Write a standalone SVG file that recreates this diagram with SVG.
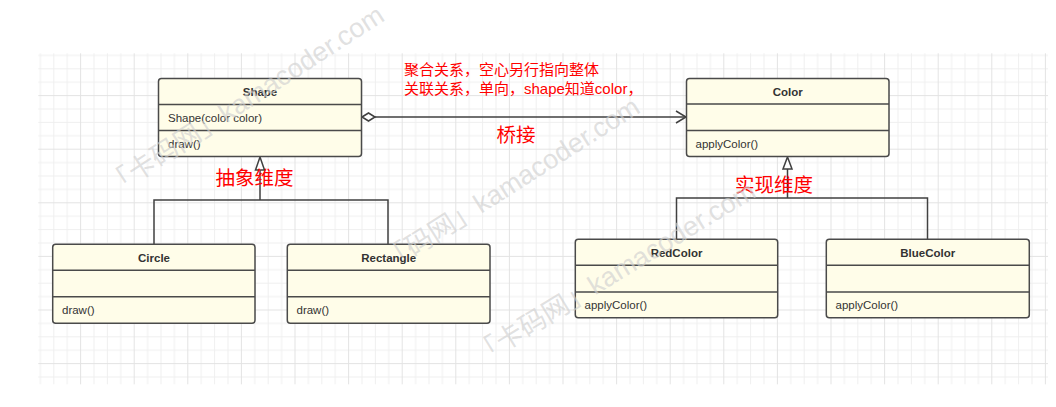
<svg xmlns="http://www.w3.org/2000/svg" width="1056" height="407" viewBox="0 0 1056 407">
<defs>
<style>
.box{fill:#fffde9;stroke:#4a4a4a;stroke-width:1.5}
.sep{stroke:#4a4a4a;stroke-width:1.5}
.name{font-family:"Liberation Sans",Arial,sans-serif;font-size:11.5px;font-weight:bold;fill:#333;text-anchor:middle}
.mem{font-family:"Liberation Sans",Arial,sans-serif;font-size:11.5px;fill:#333}
.edge{fill:none;stroke:#404040;stroke-width:1.5}
.red{font-family:"Noto Sans CJK SC","Noto Sans",sans-serif;fill:#ff0000}
.red2{font-family:"Liberation Sans","Noto Sans CJK SC",sans-serif;fill:#ff0000}
.wm{font-family:"Liberation Sans","Noto Sans CJK SC",sans-serif;font-size:27px;fill:#d0d0d0;fill-opacity:0.65}
</style>
<pattern id="grid" x="53.3" y="68.3" width="53.6" height="53.6" patternUnits="userSpaceOnUse">
<path d="M0.5 0V53.6M13.9 0V53.6M40.7 0V53.6M0 0.5H53.6M0 13.9H53.6M0 40.7H53.6" stroke="#efefef" stroke-width="1" fill="none"/>
<path d="M27.3 0V53.6M0 27.3H53.6" stroke="#e3e3e3" stroke-width="1" fill="none"/>
</pattern>
</defs>
<rect width="1056" height="407" fill="#ffffff"/>
<rect x="38.3" y="53.3" width="1009.7" height="331" fill="url(#grid)"/>

<g id="connectors">
<path class="edge" d="M375 117H686"/>
<path class="edge" d="M362 117L368.5 113L375 117L368.5 121Z" fill="#fff"/>
<path class="edge" d="M676 111L686 117L676 123"/>
<path class="edge" d="M260 170V200M154 244V200H388V244"/>
<path class="edge" d="M260 157L264.5 170H255.5Z" style="fill:#fff"/>
<path class="edge" d="M787.5 169V198M676.5 239V198H927.5V239"/>
<path class="edge" d="M787.5 157L792 169H783Z" style="fill:#fff"/>
</g>

<g id="Shape">
<rect class="box" x="158.5" y="78.5" width="203" height="78" rx="3"/>
<path class="sep" d="M158.5 104.5H361.5M158.5 130.5H361.5"/>
<text class="name" x="260" y="95.5">Shape</text>
<text class="mem" x="168" y="121.5">Shape(color color)</text>
<text class="mem" x="168" y="147.5">draw()</text>
</g>

<g id="Color">
<rect class="box" x="686.5" y="78.5" width="202.5" height="78" rx="3"/>
<path class="sep" d="M686.5 104H889M686.5 130.5H889"/>
<text class="name" x="787.7" y="95.5">Color</text>
<text class="mem" x="695.5" y="147.5">applyColor()</text>
</g>

<g id="Circle">
<rect class="box" x="52.7" y="244.3" width="202.3" height="79" rx="3"/>
<path class="sep" d="M52.7 270.3H255M52.7 296.8H255"/>
<text class="name" x="154" y="261.5">Circle</text>
<text class="mem" x="62" y="314">draw()</text>
</g>

<g id="Rectangle">
<rect class="box" x="287.3" y="244.3" width="202.7" height="79" rx="3"/>
<path class="sep" d="M287.3 270.3H490M287.3 296.8H490"/>
<text class="name" x="388.7" y="261.5">Rectangle</text>
<text class="mem" x="296.5" y="314">draw()</text>
</g>

<g id="RedColor">
<rect class="box" x="575.3" y="239.3" width="202.4" height="78.4" rx="3"/>
<path class="sep" d="M575.3 265.3H777.7M575.3 292H777.7"/>
<text class="name" x="676.5" y="256.5">RedColor</text>
<text class="mem" x="584.5" y="309">applyColor()</text>
</g>

<g id="BlueColor">
<rect class="box" x="826.3" y="239.3" width="203" height="78.4" rx="3"/>
<path class="sep" d="M826.3 265.3H1029.3M826.3 292H1029.3"/>
<text class="name" x="927.8" y="256.5">BlueColor</text>
<text class="mem" x="835.5" y="309">applyColor()</text>
</g>

<g id="labels">
<text class="red2" x="404" y="75" font-size="15">聚合关系，空心另行指向整体</text>
<text class="red2" x="404" y="93.5" font-size="15">关联关系，单向，shape知道color，</text>
<text class="red" x="496.5" y="141.5" font-size="19.5">桥接</text>
<text class="red" x="215.5" y="184.5" font-size="19.5">抽象维度</text>
<text class="red" x="735" y="192" font-size="19.5">实现维度</text>
</g>

<g id="watermark">
<text class="wm" transform="translate(113 197) rotate(-33)">「卡码网」kamacoder.com</text>
<text class="wm" transform="translate(390 272) rotate(-32.5)">「码网」kamacoder.com</text>
<text class="wm" transform="translate(480 366) rotate(-31.5)">「卡码网」kamacoder.com</text>
</g>
</svg>
